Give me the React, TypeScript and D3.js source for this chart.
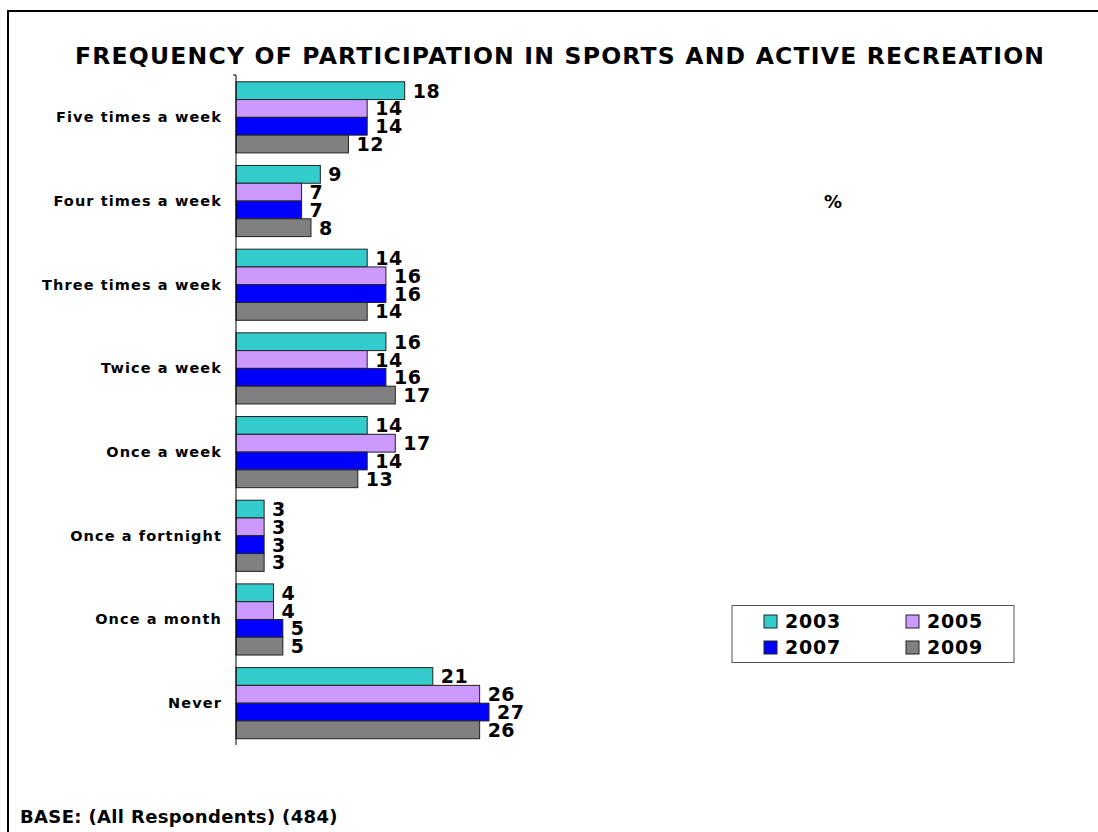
import React from "react";
import * as d3 from "d3";

const categories = [
  "Five times a week",
  "Four times a week",
  "Three times a week",
  "Twice a week",
  "Once a week",
  "Once a fortnight",
  "Once a month",
  "Never",
];
const seriesNames = ["2003", "2005", "2007", "2009"];
const v2003 = [18, 9, 14, 16, 14, 3, 4, 21];
const v2005 = [14, 7, 16, 14, 17, 3, 4, 26];
const v2007 = [14, 7, 16, 16, 14, 3, 5, 27];
const v2009 = [12, 8, 14, 17, 13, 3, 5, 26];
const seriesValues = [v2003, v2005, v2007, v2009];
const colors = ["#33CCCC", "#CC99FF", "#0000FF", "#808080"];

const W = 1098;
const H = 832;
const font = "'DejaVu Sans', Verdana, sans-serif";

export default function App() {
  const x = d3.scaleLinear().domain([0, 27]).range([236, 489]);
  const y = d3
    .scaleBand<string>()
    .domain(categories)
    .range([75.5, 745])
    .paddingInner(0.15)
    .paddingOuter(0.075);
  const inner = d3
    .scaleBand<string>()
    .domain(seriesNames)
    .range([0, y.bandwidth()]);

  return (
    <svg
      width={W}
      height={H}
      style={{ position: "absolute", left: 0, top: 0, background: "#fff" }}
      fontFamily={font}
    >
      <rect x={0} y={0} width={W} height={H} fill="#fff" />
      <line x1={8} y1={11} x2={W} y2={11} stroke="#000" strokeWidth={2} />
      <line x1={8} y1={10} x2={8} y2={H} stroke="#000" strokeWidth={2} />
      <text
        x={75}
        y={64}
        fontSize={23.5}
        fontWeight="bold"
        textLength={969}
        lengthAdjust="spacing"
      >
        FREQUENCY OF PARTICIPATION IN SPORTS AND ACTIVE RECREATION
      </text>
      {categories.map((c, i) => (
        <g key={c}>
          {seriesNames.map((s, j) => {
            const v = seriesValues[j][i];
            const by = (y(c) ?? 0) + (inner(s) ?? 0);
            const bh = inner.bandwidth();
            return (
              <g key={s}>
                <rect
                  x={x(0)}
                  y={by}
                  width={x(v) - x(0)}
                  height={bh}
                  fill={colors[j]}
                  stroke="#222"
                  strokeWidth={1}
                />
                <text
                  x={x(v) + 8}
                  y={by + bh / 2 + 7}
                  fontSize={19}
                  fontWeight="bold"
                  letterSpacing={0.5}
                >
                  {v}
                </text>
              </g>
            );
          })}
          <text
            x={222}
            y={(y(c) ?? 0) + y.bandwidth() / 2 + 5}
            fontSize={14.5}
            fontWeight="bold"
            textAnchor="end"
            letterSpacing={1.1}
          >
            {c}
          </text>
        </g>
      ))}
      <line x1={236} y1={75} x2={236} y2={745} stroke="#000" strokeWidth={1} />
      <line x1={233} y1={75} x2={236} y2={75} stroke="#000" strokeWidth={1} />
      <text x={833} y={208} fontSize={18} fontWeight="bold" textAnchor="middle">
        %
      </text>
      <rect x={732} y={605.5} width={282} height={57} fill="#fff" stroke="#555" strokeWidth={1} />
      {seriesNames.map((s, j) => {
        const lx = j % 2 === 0 ? 764 : 906;
        const ly = j < 2 ? 621 : 647;
        return (
          <g key={s}>
            <rect x={lx} y={ly - 6} width={13} height={13} fill={colors[j]} stroke="#222" strokeWidth={1} />
            <text x={lx + 21} y={ly + 7} fontSize={19} fontWeight="bold" letterSpacing={0.8}>
              {s}
            </text>
          </g>
        );
      })}
      <text x={20} y={823} fontSize={18} fontWeight="bold" letterSpacing={0.35}>
        BASE: (All Respondents) (484)
      </text>
    </svg>
  );
}
